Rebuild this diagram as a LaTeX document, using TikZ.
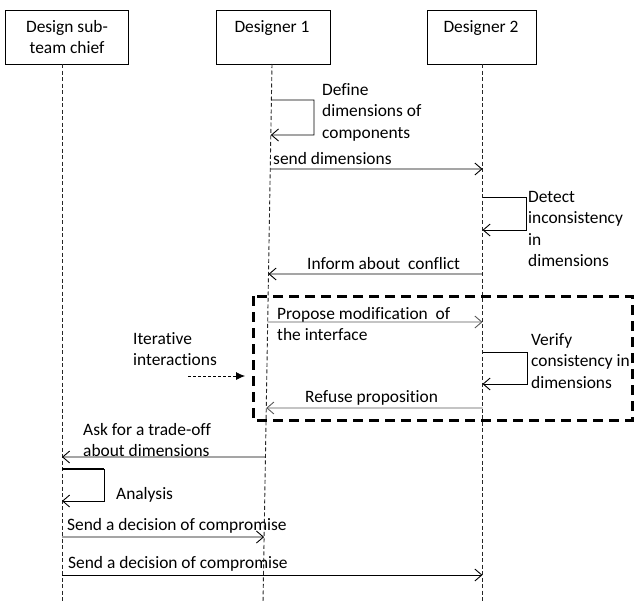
\documentclass[tikz,border=0pt]{standalone}
\usepackage{fontspec}
\setmainfont{Carlito}[Ligatures={NoCommon}]
\usetikzlibrary{arrows.meta,calc}
\begin{document}
\begin{tikzpicture}[x=1pt,y=-1pt,
  every node/.style={font=\fontsize{17.4}{21.5}\selectfont, inner sep=0pt},
  actor/.style={draw, line width=0.9pt, minimum height=54pt, anchor=north west},
  life/.style={dash pattern=on 4pt off 2.5pt, line width=0.9pt, black!85},
  msg/.style={line width=0.9pt, -{Straight Barb[length=7pt,width=12pt]}},
  graymsg/.style={msg, black!65},
  txt/.style={anchor=base west},
  mtxt/.style={anchor=north west, align=left},
  itbox/.style={line width=3pt, dash pattern=on 10pt off 6pt},
  hint/.style={dash pattern=on 3pt off 2pt, line width=0.8pt, -{Latex[length=9pt,width=8pt]}}
  ]
\useasboundingbox (0,0) rectangle (634,603);

% actors
\node[actor, minimum width=123pt] (b1) at (5,10) {};
\node[actor, minimum width=114pt] (b2) at (216,10) {};
\node[actor, minimum width=109pt] (b3) at (427,10) {};
\node[anchor=north, align=center] (t1) at (67,20) {Design sub-\\team chief};
\node[anchor=north] (t2) at (272,20) {Designer 1};
\node[anchor=north] (t3) at (481,20) {Designer 2};

% lifelines
\coordinate (L1a) at (62,64);    \coordinate (L1b) at (62,603);
\coordinate (L2a) at (272,64);   \coordinate (L2b) at (263,603);
\coordinate (L3a) at (482.5,64); \coordinate (L3b) at (482.5,603);
\draw[life] (L1a) -- (L1b);
\draw[life] (L2a) -- (L2b);
\draw[life] (L3a) -- (L3b);

% points on lifeline 2
\coordinate (p2def1) at ($(L2a)!0.0668!(L2b)$);
\coordinate (p2def2) at ($(L2a)!0.1317!(L2b)$);
\coordinate (p2send) at ($(L2a)!0.1948!(L2b)$);
\coordinate (p2inf)  at ($(L2a)!0.3896!(L2b)$);
\coordinate (p2prop) at ($(L2a)!0.4787!(L2b)$);
\coordinate (p2ref)  at ($(L2a)!0.6382!(L2b)$);
\coordinate (p2ask)  at ($(L2a)!0.7291!(L2b)$);
\coordinate (p2sd1)  at ($(L2a)!0.8776!(L2b)$);
% points on lifeline 3
\coordinate (p3send) at (482.5,169);
\coordinate (p3det1) at (482.5,197);
\coordinate (p3det2) at (482.5,230);
\coordinate (p3inf)  at (482.5,274);
\coordinate (p3prop) at (482.5,322);
\coordinate (p3ver1) at (482.5,352);
\coordinate (p3ver2) at (482.5,384);
\coordinate (p3ref)  at (482.5,408);
\coordinate (p3sd2)  at (482.5,575);
% points on lifeline 1
\coordinate (p1ask) at (62,457);
\coordinate (p1an1) at (62,469);
\coordinate (p1an2) at (62,501);
\coordinate (p1sd1) at (62,537);
\coordinate (p1sd2) at (62,575);

% iterative box
\draw[itbox] (253,296) rectangle (632,420);
\coordinate (ia) at (188,376);
\coordinate (ib) at (245,376);
\draw[hint] (ia) -- (ib);

% self loops
\draw[msg] (p2def1) -- (314,100) -- (314,135) -- (p2def2);
\draw[msg] (p3det1) -- (526,197) -- (526,230) -- (p3det2);
\draw[msg] (p3ver1) -- (527,352) -- (527,384) -- (p3ver2);
\draw[line width=2pt] (p1an1) -- (104,469);
\draw[msg] (p1an1) -- (104,469) -- (104,501) -- (p1an2);

% messages
\draw[msg] (p2send) -- (p3send);
\draw[msg] (p3inf) -- (p2inf);
\draw[graymsg] (p2prop) -- (p3prop);
\draw[graymsg] (p3ref) -- (p2ref);
\draw[msg] (p2ask) -- (p1ask);
\draw[msg] (p1sd1) -- (p2sd1);
\draw[msg] (p1sd2) -- (p3sd2);

% labels
\node[mtxt] (tdef) at (322,83) {Define\\dimensions of\\components};
\node[txt] (tsend) at (273,164.5) {send dimensions};
\node[mtxt] (tdet) at (528,191) {Detect\\inconsistency\\in\\dimensions};
\node[txt] (tinf) at (307,269.5) {Inform about\ \ conflict};
\node[mtxt] (tprop) at (277,307) {Propose modification\ \ of\\the interface};
\node[mtxt] (titer) at (133,332) {Iterative\\interactions};
\node[mtxt] (tver) at (531,333) {Verify\\consistency in\\dimensions};
\node[txt] (tref) at (305,402.5) {Refuse proposition};
\node[mtxt] (task) at (83,423) {Ask for a trade-off\\about dimensions};
\node[txt] (tana) at (116,499.5) {Analysis};
\node[txt] (tsd1) at (67,530.5) {Send a decision of compromise};
\node[txt] (tsd2) at (68,568.5) {Send a decision of compromise};
\end{tikzpicture}
\end{document}
